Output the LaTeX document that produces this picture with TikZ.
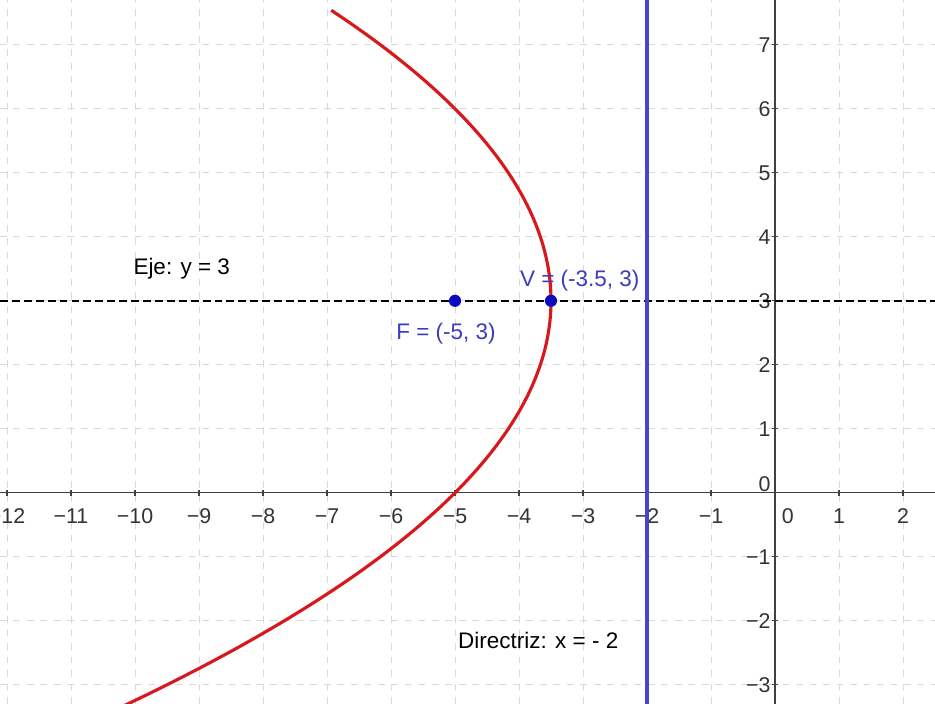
\documentclass[tikz,border=0pt]{standalone}
\usepackage{fontspec}
\setmainfont{Liberation Sans}
\usepackage{tikz}
\usepackage{xcolor}
\definecolor{curvered}{RGB}{215,25,30}
\definecolor{dirblue}{RGB}{70,70,205}
\definecolor{ptblue}{RGB}{10,10,190}
\definecolor{lblblue}{RGB}{60,60,190}

\begin{document}
\begin{tikzpicture}[x=1cm,y=1cm,every node/.style={font=\fontsize{10}{12}\selectfont},
  gridline/.style={gray!30,dashed,line width=0.4pt},
  axisline/.style={black!75,line width=0.6pt},
  ticklbl/.style={font=\fontsize{9.5}{11}\selectfont,text=black!80,inner sep=1pt}]
\useasboundingbox (-12.11,-3.30) rectangle (2.50,7.70);
\fill[white] (-12.11,-3.30) rectangle (2.50,7.70);
% grid
\foreach \i in {-12,...,2} \draw[gridline] (\i,-3.30) -- (\i,7.70);
\foreach \j in {-3,...,7} \draw[gridline] (-12.11,\j) -- (2.50,\j);
% axes
\draw[axisline] (-12.11,0) -- (2.50,0);
\draw[axisline] (0,-3.30) -- (0,7.70);
\foreach \i in {-12,...,-1,1,2} {
  \draw[axisline] (\i,-0.05) -- (\i,0.05);
  \node[ticklbl] (xl\i) at (\i,-0.36) {\ifnum\i<0 −\fi\the\numexpr\ifnum\i<0 -\fi\i\relax};
}
\foreach \j in {-3,...,-1,1,2,...,7} {
  \draw[axisline] (-0.05,\j) -- (0.05,\j);
  \node[ticklbl,anchor=east] (yl\j) at (-0.03,\j) {\ifnum\j<0 −\fi\the\numexpr\ifnum\j<0 -\fi\j\relax};
}
\node[ticklbl] (xl0) at (0.2,-0.36) {0};
\node[ticklbl,anchor=east] (yl0) at (-0.03,0.14) {0};
% axis of the parabola and directrix
\draw[black,line width=1pt,dash pattern=on 3.5pt off 1.8pt] (-12.11,3) -- (2.50,3);
\draw[dirblue,line width=1.7pt] (-2,-3.30) -- (-2,7.70);
% parabola
\draw[curvered,line width=1.4pt,smooth,samples=80,domain=-3.45:7.54]
  plot ({-3.5-(\x-3)^2/6},\x);
% points
\fill[ptblue] (-5,3) circle (0.095) coordinate (F);
\fill[ptblue] (-3.5,3) circle (0.095) coordinate (V);
% labels
\node (eje) at (-9.27,3.50) {Eje: y = 3};
\node[text=lblblue] (flbl) at (-5.14,2.48) {F = (-5, 3)};
\node[text=lblblue] (vlbl) at (-3.05,3.31) {V = (-3.5, 3)};
\node (dir) at (-3.70,-2.31) {Directriz: x = - 2};
\end{tikzpicture}
\end{document}
